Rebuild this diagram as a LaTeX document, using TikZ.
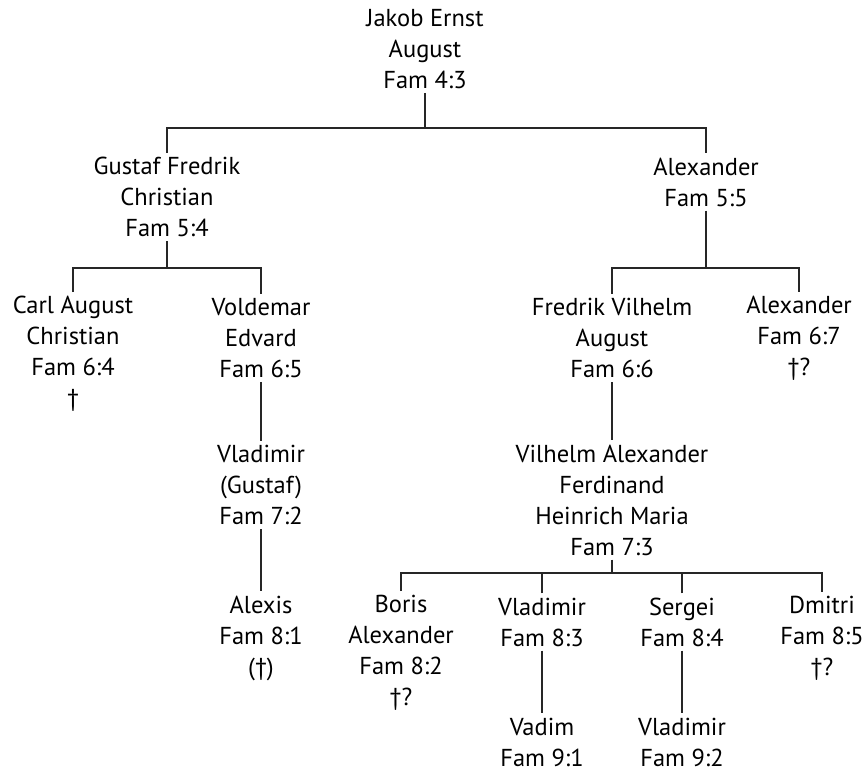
\documentclass[tikz,border=0pt]{standalone}
\usepackage{fontspec}
\setmainfont{PT Sans}
\usepackage{tikz}

\begin{document}
\begin{tikzpicture}%
        [x=1pt, y=-1pt,
        person/.style={align=center, inner xsep=0pt, inner ysep=4pt, font=\fontsize{24.5}{31}\selectfont},
        link/.style={color=black!85, line width=1.1pt}]
    \useasboundingbox (0,0) rectangle (865,772);
    %% Generation 4 and 5
    \node[person] (jakob) at (425,49) {Jakob Ernst\\August\\Fam 4:3};
    \node[person] (gustaf) at (167,197) {Gustaf Fredrik\\Christian\\Fam 5:4};
    \node[person] (alex) at (706,182) {Alexander\\Fam 5:5};
    %% Generation 6
    \node[person] (carl) at (73,354) {Carl August\\Christian\\Fam 6:4\\\dag};
    \node[person] (voldemar) at (261,338) {Voldemar\\Edvard\\Fam 6:5};
    \node[person] (fredrik) at (612,338) {Fredrik Vilhelm\\August\\Fam 6:6};
    \node[person] (alexb) at (799,338) {Alexander\\Fam 6:7\\\dag?};
    %% Generation 7
    \node[person] (vladimir) at (261,485) {Vladimir\\(Gustaf)\\Fam 7:2};
    \node[person] (vilhelm) at (612,500) {Vilhelm Alexander\\Ferdinand\\Heinrich Maria\\Fam 7:3};
    %% Generation 8
    \node[person] (alexis) at (261,638) {Alexis\\Fam 8:1\\(\dag)};
    \node[person] (boris) at (401,653) {Boris\\Alexander\\Fam 8:2\\\dag?};
    \node[person] (vladb) at (542,622) {Vladimir\\Fam 8:3};
    \node[person] (sergei) at (682,622) {Sergei\\Fam 8:4};
    \node[person] (dmitri) at (822,638) {Dmitri\\Fam 8:5\\\dag?};
    %% Generation 9
    \node[person] (vadim) at (542,742) {Vadim\\Fam 9:1};
    \node[person] (vladc) at (682,742) {Vladimir\\Fam 9:2};
    %%
    %% Bars
    \coordinate (bar0) at (0,128);
    \coordinate (bar1) at (0,268);
    \coordinate (bar2) at (0,573);
    %% Connectors
    \draw[link] (jakob.south) -- (jakob.south |- bar0);
    \draw[link] (gustaf.north) |- (bar0 -| jakob) -| (alex.north);
    \draw[link] (gustaf.south) -- (gustaf.south |- bar1);
    \draw[link] (carl.north) |- (bar1 -| gustaf) -| (voldemar.north);
    \draw[link] (alex.south) -- (alex.south |- bar1);
    \draw[link] (fredrik.north) |- (bar1 -| alex) -| (alexb.north);
    \draw[link] (voldemar.south) -- (vladimir.north);
    \draw[link] (vladimir.south) -- (alexis.north);
    \draw[link] (fredrik.south) -- (vilhelm.north);
    \draw[link] (vilhelm.south) -- (vilhelm.south |- bar2);
    \draw[link] (boris.north) |- (bar2 -| vilhelm) -| (dmitri.north);
    \draw[link] (vladb.north) -- (vladb.north |- bar2);
    \draw[link] (sergei.north) -- (sergei.north |- bar2);
    \draw[link] (vladb.south) -- (vadim.north);
    \draw[link] (sergei.south) -- (vladc.north);
\end{tikzpicture}
\end{document}
